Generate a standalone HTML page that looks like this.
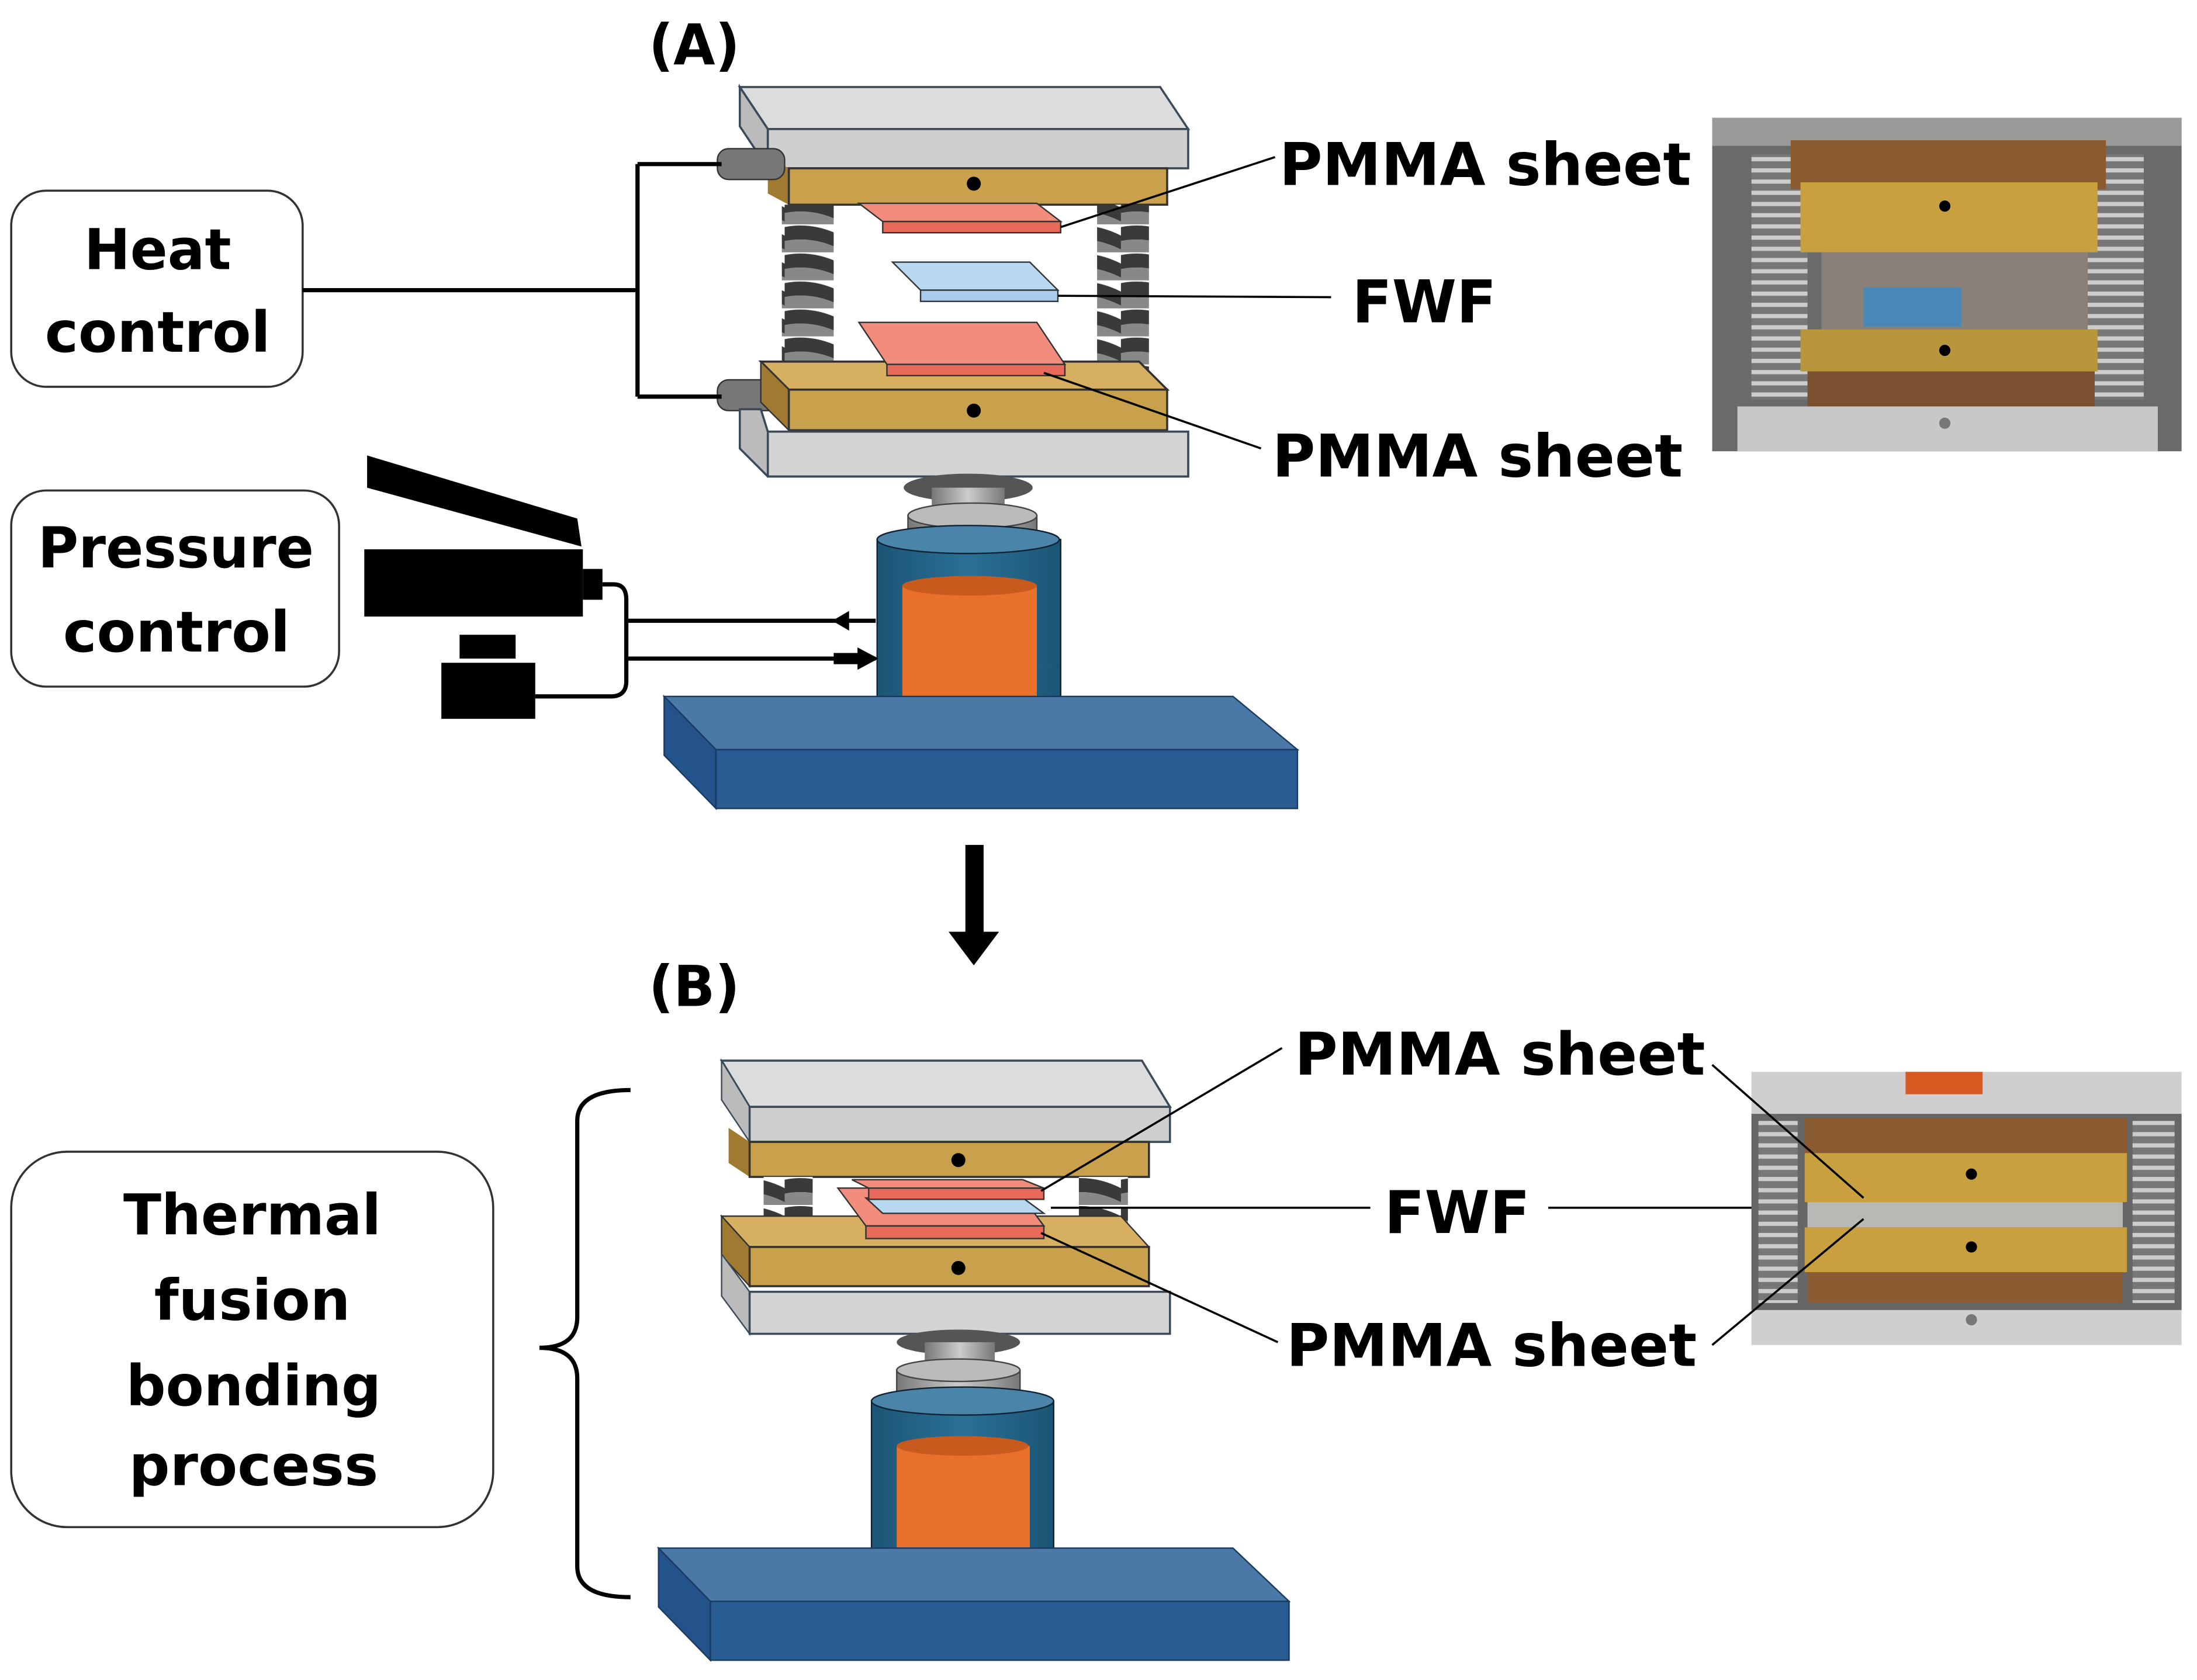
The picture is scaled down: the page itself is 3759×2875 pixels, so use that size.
<!DOCTYPE html>
<html><head><meta charset="utf-8"><style>
html,body{margin:0;padding:0;background:#fff;}
svg{display:block;}
text{font-family:"DejaVu Sans","Liberation Sans",sans-serif;font-weight:bold;fill:#000;}
</style></head><body>
<svg width="3759" height="2875" viewBox="0 0 1568 1199" xmlns="http://www.w3.org/2000/svg">
<defs>
<linearGradient id="cyl" x1="0" x2="1"><stop offset="0" stop-color="#1b5575"/><stop offset="0.5" stop-color="#2a7096"/><stop offset="1" stop-color="#1b5575"/></linearGradient>
<linearGradient id="shaft" x1="0" x2="1"><stop offset="0" stop-color="#777"/><stop offset="0.5" stop-color="#ccc"/><stop offset="1" stop-color="#777"/></linearGradient>
<pattern id="spring" width="40" height="20" patternUnits="userSpaceOnUse"><rect width="40" height="20" fill="#fff"/><path d="M0,2 Q20,-2 40,8 L40,18 Q20,8 0,12Z" fill="#3a3a3a"/><path d="M0,12 Q20,8 40,18 L40,20 L0,20Z" fill="#888"/></pattern>
<pattern id="springP" width="14" height="8" patternUnits="userSpaceOnUse"><rect width="14" height="8" fill="#777"/><rect y="0" width="14" height="3" fill="#ccc"/></pattern>
</defs>
<rect width="1568" height="1199" fill="#fff"/>

<text x="463" y="46" font-size="40" textLength="65" lengthAdjust="spacingAndGlyphs">(A)</text>
<polygon points="528,62 828,62 848,92 548,92" fill="#dcdcdc" stroke="#3a4a5a" stroke-width="1.5"/>
<polygon points="528,62 548,92 548,120 528,90" fill="#bbb" stroke="#3a4a5a" stroke-width="1.5"/>
<rect x="548" y="92" width="300" height="28" fill="#cfcfcf" stroke="#3a4a5a" stroke-width="1.5"/>
<polygon points="548,112 563,120 563,146 548,138" fill="#a07a30"/>
<rect x="563" y="120" width="270" height="26" fill="#c9a04c" stroke="#333" stroke-width="1.5"/>
<circle cx="695" cy="131" r="5" fill="#000"/>
<rect x="512" y="106" width="48" height="22" rx="8" fill="#777" stroke="#333"/>
<rect x="512" y="271" width="48" height="22" rx="8" fill="#777" stroke="#333"/>
<rect x="558" y="146" width="37" height="122" fill="url(#spring)"/>
<rect x="783" y="146" width="37" height="122" fill="url(#spring)"/>
<polygon points="613,145 740,145 757,158 630,158" fill="#f28c7c" stroke="#333"/>
<rect x="630" y="158" width="127" height="8" fill="#e86a5a" stroke="#333"/>
<polygon points="637,187 735,187 755,207 657,207" fill="#b8d8f2" stroke="#333"/>
<rect x="657" y="207" width="98" height="8" fill="#a8ccec" stroke="#333"/>
<polygon points="543,258 813,258 833,278 563,278" fill="#d6b060" stroke="#333" stroke-width="1.5"/>
<polygon points="543,258 563,278 563,307 543,287" fill="#a07a30" stroke="#333"/>
<rect x="563" y="278" width="270" height="29" fill="#c9a04c" stroke="#333" stroke-width="1.5"/>
<circle cx="695" cy="293" r="5" fill="#000"/>
<polygon points="613,230 740,230 760,260 633,260" fill="#f28c7c" stroke="#333"/>
<rect x="633" y="260" width="127" height="8" fill="#e86a5a" stroke="#333"/>
<polygon points="528,292 543,292 548,308 848,308 848,340 548,340 528,320" fill="#bbb" stroke="#3a4a5a" stroke-width="1.5"/>
<rect x="548" y="308" width="300" height="32" fill="#d4d4d4" stroke="#3a4a5a" stroke-width="1.5"/>
<ellipse cx="691" cy="348" rx="46" ry="10" fill="#555"/>
<rect x="665" y="348" width="52" height="20" fill="url(#shaft)"/>
<rect x="648" y="368" width="92" height="28" fill="url(#shaft)" stroke="#444"/>
<ellipse cx="694" cy="368" rx="46" ry="9" fill="#bbb" stroke="#444"/>
<rect x="626" y="385" width="131" height="130" fill="url(#cyl)" stroke="#123"/>
<ellipse cx="691" cy="515" rx="65" ry="9" fill="#1b5575" stroke="#123"/>
<ellipse cx="691" cy="385" rx="65" ry="10" fill="#4a84a8" stroke="#123"/>
<rect x="644" y="418" width="96" height="86" fill="#e8702a"/>
<ellipse cx="692" cy="504" rx="48" ry="7" fill="#e8702a"/>
<ellipse cx="692" cy="418" rx="48" ry="7" fill="#c85a1e"/>
<polygon points="474,497 880,497 926,535 511,535" fill="#4a79a8" stroke="#1a3a60"/>
<polygon points="474,497 511,535 511,577 474,539" fill="#23538a" stroke="#1a3a60"/>
<rect x="511" y="535" width="415" height="42" fill="#2a5c94" stroke="#1a3a60"/>

<rect x="8" y="136" width="208" height="140" rx="25" fill="#fff" stroke="#333" stroke-width="1.5"/>
<text x="60" y="192" font-size="40" textLength="105" lengthAdjust="spacingAndGlyphs">Heat</text>
<text x="32" y="251" font-size="40" textLength="161" lengthAdjust="spacingAndGlyphs">control</text>
<path d="M216,207 H455 M455,117 V283 M455,117 H515 M455,283 H515" stroke="#000" stroke-width="3" fill="none"/>

<rect x="8" y="350" width="234" height="140" rx="25" fill="#fff" stroke="#333" stroke-width="1.5"/>
<text x="27" y="405" font-size="40" textLength="197" lengthAdjust="spacingAndGlyphs">Pressure</text>
<text x="45" y="465" font-size="40" textLength="162" lengthAdjust="spacingAndGlyphs">control</text>
<polygon points="262,325 412,370 415,390 262,348" fill="#000"/>
<rect x="260" y="392" width="156" height="48" fill="#000"/>
<rect x="416" y="406" width="14" height="22" fill="#000"/>
<rect x="328" y="453" width="40" height="17" fill="#000"/>
<rect x="315" y="473" width="67" height="40" fill="#000"/>
<path d="M430,417 H438 Q447,417 447,428 V486 Q447,497 436,497 H382" stroke="#000" stroke-width="3" fill="none"/>
<path d="M447,443 H625 M447,470 H625" stroke="#000" stroke-width="3"/>
<polygon points="594,443 606,436 606,450" fill="#000"/>
<rect x="595" y="466" width="20" height="8" fill="#000"/>
<polygon points="627,470 612,462 612,478" fill="#000"/>

<text x="913" y="132" font-size="42" textLength="294" lengthAdjust="spacingAndGlyphs">PMMA sheet</text>
<text x="965" y="230" font-size="42" textLength="103" lengthAdjust="spacingAndGlyphs">FWF</text>
<text x="908" y="340" font-size="42" textLength="293" lengthAdjust="spacingAndGlyphs">PMMA sheet</text>
<path d="M757,162 L910,112 M755,211 L950,212 M745,266 L900,320" stroke="#000" stroke-width="1.5"/>

<g>
<rect x="1222" y="84" width="335" height="238" fill="#6a6a6a"/>
<rect x="1222" y="84" width="335" height="20" fill="#9a9a98"/>
<rect x="1250" y="110" width="40" height="175" fill="url(#springP)"/>
<rect x="1490" y="110" width="40" height="175" fill="url(#springP)"/>
<rect x="1278" y="100" width="225" height="35" fill="#8a5a30"/>
<rect x="1285" y="130" width="212" height="50" fill="#c8a040"/>
<rect x="1300" y="180" width="190" height="55" fill="#8a8078"/>
<rect x="1330" y="205" width="70" height="28" fill="#4a88b8"/>
<rect x="1285" y="235" width="212" height="30" fill="#b8963c"/>
<rect x="1290" y="265" width="205" height="25" fill="#7a5030"/>
<rect x="1240" y="290" width="300" height="32" fill="#c8c8c8"/>
<circle cx="1388" cy="147" r="4" fill="#000"/>
<circle cx="1388" cy="250" r="4" fill="#000"/>
<circle cx="1388" cy="302" r="4" fill="#777"/>
</g>

<rect x="689" y="603" width="13" height="63" fill="#000"/>
<polygon points="677,665 713,665 695,689" fill="#000"/>

<text x="463" y="718" font-size="40" textLength="65" lengthAdjust="spacingAndGlyphs">(B)</text>
<polygon points="515,757 815,757 835,790 535,790" fill="#dcdcdc" stroke="#3a4a5a" stroke-width="1.5"/>
<polygon points="515,757 535,790 535,815 515,785" fill="#bbb" stroke="#3a4a5a"/>
<rect x="535" y="790" width="300" height="25" fill="#cfcfcf" stroke="#3a4a5a" stroke-width="1.5"/>
<polygon points="520,805 535,815 535,840 520,830" fill="#a07a30"/>
<rect x="535" y="815" width="285" height="25" fill="#c9a04c" stroke="#333" stroke-width="1.5"/>
<circle cx="684" cy="828" r="5" fill="#000"/>
<rect x="545" y="840" width="35" height="40" fill="url(#spring)"/>
<rect x="770" y="840" width="35" height="40" fill="url(#spring)"/>
<polygon points="515,868 800,868 820,890 535,890" fill="#d6b060" stroke="#333"/>
<polygon points="515,868 535,890 535,918 515,896" fill="#a07a30" stroke="#333"/>
<rect x="535" y="890" width="285" height="28" fill="#c9a04c" stroke="#333" stroke-width="1.5"/>
<circle cx="684" cy="905" r="5" fill="#000"/>
<polygon points="598,848 725,848 745,875 618,875" fill="#f28c7c" stroke="#333"/>
<rect x="618" y="875" width="127" height="9" fill="#e86a5a" stroke="#333"/>
<polygon points="618,855 730,855 745,866 630,866" fill="#b8d8f2" stroke="#333"/>
<polygon points="608,842 730,842 745,848 620,848" fill="#f28c7c" stroke="#333"/>
<rect x="620" y="848" width="125" height="8" fill="#e86a5a" stroke="#333"/>
<polygon points="515,895 535,922 535,952 515,925" fill="#bbb" stroke="#3a4a5a"/>
<rect x="535" y="922" width="300" height="30" fill="#d4d4d4" stroke="#3a4a5a" stroke-width="1.5"/>
<ellipse cx="684" cy="958" rx="44" ry="9" fill="#555"/>
<rect x="660" y="958" width="50" height="20" fill="url(#shaft)"/>
<rect x="640" y="978" width="88" height="25" fill="url(#shaft)" stroke="#444"/>
<ellipse cx="684" cy="978" rx="44" ry="8" fill="#bbb" stroke="#444"/>
<rect x="622" y="1000" width="130" height="125" fill="url(#cyl)" stroke="#123"/>
<ellipse cx="687" cy="1125" rx="65" ry="9" fill="#1b5575" stroke="#123"/>
<ellipse cx="687" cy="1000" rx="65" ry="10" fill="#4a84a8" stroke="#123"/>
<rect x="640" y="1032" width="95" height="86" fill="#e8702a"/>
<ellipse cx="687" cy="1032" rx="47" ry="7" fill="#c85a1e"/>
<polygon points="470,1105 880,1105 920,1143 507,1143" fill="#4a79a8" stroke="#1a3a60"/>
<polygon points="470,1105 507,1143 507,1185 470,1147" fill="#23538a" stroke="#1a3a60"/>
<rect x="507" y="1143" width="413" height="42" fill="#2a5c94" stroke="#1a3a60"/>

<path d="M450,778 Q412,778 412,800 V940 Q412,962 385,962 Q412,962 412,984 V1118 Q412,1140 450,1140" stroke="#000" stroke-width="3" fill="none"/>
<rect x="8" y="822" width="344" height="268" rx="40" fill="#fff" stroke="#333" stroke-width="1.5"/>
<text x="88" y="881" font-size="40" textLength="184" lengthAdjust="spacingAndGlyphs">Thermal</text>
<text x="110" y="942" font-size="40" textLength="140" lengthAdjust="spacingAndGlyphs">fusion</text>
<text x="90" y="1003" font-size="40" textLength="182" lengthAdjust="spacingAndGlyphs">bonding</text>
<text x="92" y="1060" font-size="40" textLength="178" lengthAdjust="spacingAndGlyphs">process</text>

<text x="924" y="767" font-size="42" textLength="293" lengthAdjust="spacingAndGlyphs">PMMA sheet</text>
<text x="988" y="880" font-size="42" textLength="104" lengthAdjust="spacingAndGlyphs">FWF</text>
<text x="918" y="975" font-size="42" textLength="293" lengthAdjust="spacingAndGlyphs">PMMA sheet</text>
<path d="M743,850 L915,748 M750,862 L978,862 M1105,862 L1340,862 M743,880 L912,958" stroke="#000" stroke-width="1.5"/>

<g>
<rect x="1250" y="765" width="307" height="195" fill="#cfcfcf"/>
<rect x="1360" y="765" width="55" height="16" fill="#d85a22"/>
<rect x="1250" y="795" width="307" height="140" fill="#666"/>
<rect x="1255" y="800" width="28" height="130" fill="url(#springP)"/>
<rect x="1522" y="800" width="30" height="130" fill="url(#springP)"/>
<rect x="1288" y="798" width="230" height="25" fill="#8a5a30"/>
<rect x="1288" y="823" width="230" height="35" fill="#c8a040"/>
<rect x="1290" y="858" width="225" height="18" fill="#b8b8b4"/>
<rect x="1288" y="876" width="230" height="32" fill="#c8a040"/>
<rect x="1290" y="908" width="225" height="22" fill="#8a5a30"/>
<circle cx="1407" cy="838" r="4" fill="#000"/>
<circle cx="1407" cy="890" r="4" fill="#000"/>
<circle cx="1407" cy="942" r="4" fill="#777"/>
</g>
<path d="M1222,760 L1330,855 M1222,960 L1330,870" stroke="#000" stroke-width="1.5"/>
</svg>
</body></html>
